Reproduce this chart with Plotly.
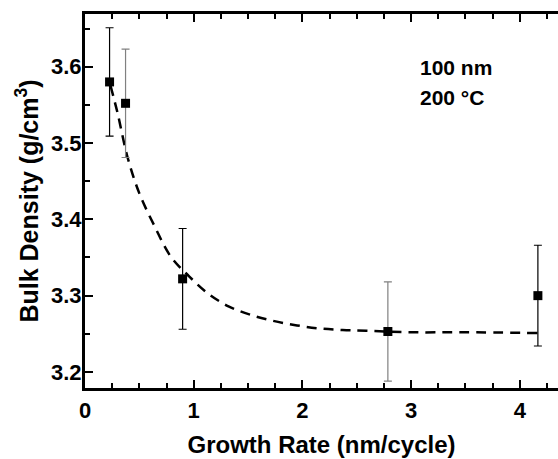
import plotly.graph_objects as go

# Measured data
growth_rate = [0.226, 0.373, 0.898, 2.786, 4.166]
bulk_density = [3.580, 3.552, 3.322, 3.253, 3.300]
density_err = [0.071, 0.071, 0.066, 0.065, 0.066]
err_colors = ["#000000", "#808080", "#000000", "#808080", "#000000"]

# Fit curve points
fit_x = [0.235, 0.30, 0.39, 0.50, 0.64, 0.79, 0.96, 1.13, 1.32, 1.52, 1.73,
         1.95, 2.16, 2.37, 2.59, 3.0, 3.5, 4.17]
fit_y = [3.575, 3.539, 3.482, 3.434, 3.391, 3.351, 3.325, 3.303, 3.286, 3.275,
         3.267, 3.261, 3.257, 3.255, 3.254, 3.252, 3.252, 3.251]

x_range = [0, 4.351]
y_range = [3.179, 3.669]
x_ticks = [0, 1, 2, 3, 4]
y_ticks = [3.2, 3.3, 3.4, 3.5, 3.6]

FONT = "Liberation Sans, Arial, sans-serif"
TICK_SIZE = 22
TITLE_SIZE = 24

fig = go.Figure()

fig.add_trace(go.Scatter(
    x=fit_x, y=fit_y, mode="lines",
    line=dict(color="black", width=2.5, dash="10px,7px", shape="spline"),
    showlegend=False, hoverinfo="skip",
))

for xi, yi, ei, ci in zip(growth_rate, bulk_density, density_err, err_colors):
    fig.add_trace(go.Scatter(
        x=[xi], y=[yi], mode="markers",
        marker=dict(symbol="square", size=9, color="black"),
        error_y=dict(type="data", array=[ei], visible=True, color=ci,
                     thickness=1.2, width=4),
        showlegend=False,
    ))

fig.update_layout(
    width=558, height=459,
    margin=dict(l=85, r=0, t=14, b=71),
    paper_bgcolor="white", plot_bgcolor="white",
    font=dict(family=FONT, color="black", size=TICK_SIZE, weight="bold"),
    xaxis=dict(
        range=x_range, tickvals=x_ticks, ticktext=[str(v) for v in x_ticks],
        showline=True, linecolor="black", linewidth=3, mirror="allticks",
        ticks="inside", ticklen=8, tickwidth=2, tickcolor="black",
        minor=dict(ticks="inside", ticklen=5, tickwidth=2, dtick=0.25, tick0=0,
                   tickcolor="black"),
        showgrid=False, zeroline=False, ticklabelstandoff=1,
        tickfont=dict(family=FONT, size=TICK_SIZE, weight="bold"),
        title=dict(text="Growth Rate (nm/cycle)",
                   font=dict(family=FONT, size=TITLE_SIZE, weight="bold"), standoff=14),
    ),
    yaxis=dict(
        range=y_range, tickvals=y_ticks, ticktext=["%.1f" % v for v in y_ticks],
        showline=True, linecolor="black", linewidth=3, mirror=False,
        ticks="inside", ticklen=8, tickwidth=2, tickcolor="black",
        minor=dict(ticks="inside", ticklen=5, tickwidth=2, dtick=0.05, tick0=3.2,
                   tickcolor="black"),
        showgrid=False, zeroline=False, ticklabelstandoff=-4,
        tickfont=dict(family=FONT, size=TICK_SIZE, weight="bold"),
        title=dict(text="Bulk Density (g/cm<sup>3</sup>)",
                   font=dict(family=FONT, size=25, weight="bold"), standoff=6),
    ),
    yaxis2=dict(
        range=y_range, overlaying="y", side="right", tickvals=y_ticks,
        showticklabels=False, showline=False, showgrid=False, zeroline=False,
        ticks="inside", ticklen=5, tickwidth=2, tickcolor="black",
        minor=dict(ticks="inside", ticklen=2, tickwidth=2, dtick=0.05, tick0=3.2,
                   tickcolor="black"),
    ),
)

fig.add_annotation(x=0.703, y=0.856, xref="paper", yref="paper",
                   text="100 nm", showarrow=False, xanchor="left", yanchor="middle",
                   font=dict(family=FONT, size=21, weight="bold"))
fig.add_annotation(x=0.703, y=0.777, xref="paper", yref="paper",
                   text="200 °C", showarrow=False, xanchor="left", yanchor="middle",
                   font=dict(family=FONT, size=21, weight="bold"))

fig.write_html("out.html")
